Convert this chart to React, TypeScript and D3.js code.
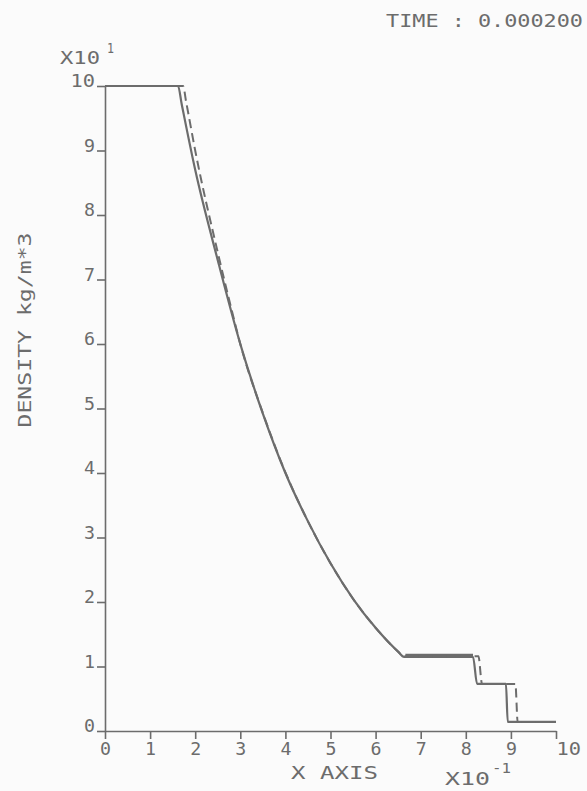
import React, { useEffect, useRef } from "react";
import * as d3 from "d3";

const W = 587;
const H = 791;
const ink = "#6c6c6c";
const font = "'DejaVu Sans Mono', monospace";

const xTicks = [0, 1, 2, 3, 4, 5, 6, 7, 8, 9, 10];
const yTicks = [0, 1, 2, 3, 4, 5, 6, 7, 8, 9, 10];

// solid curve (x in 10^-1, density in 10^1)
const solidX = [0, 1.62, 1.7, 2.0, 2.5, 3.0, 3.5, 4.0, 4.5, 5.0, 5.5, 6.0, 6.5, 6.63, 8.16, 8.25, 8.89, 8.93, 10];
const solidY = [10, 10, 9.72, 8.7, 7.3, 6.0, 4.92, 4.0, 3.25, 2.6, 2.05, 1.6, 1.23, 1.15, 1.15, 0.73, 0.73, 0.14, 0.14];
// second solid trace on the plateau (makes it look thicker)
const solid2X = [6.66, 8.16];
const solid2Y = [1.18, 1.18];
// dashed curve
const dashedX = [0, 1.73, 1.8, 2.0, 2.5, 2.8, 3.0, 3.5, 4.0, 4.5, 5.0, 5.5, 6.0, 6.5, 6.62, 8.28, 8.36, 9.1, 9.15, 10];
const dashedY = [10, 10, 9.75, 9.0, 7.42, 6.55, 6.0, 4.93, 4.01, 3.25, 2.6, 2.05, 1.6, 1.23, 1.16, 1.16, 0.73, 0.73, 0.14, 0.14];

export default function App() {
  const svgRef = useRef<SVGSVGElement>(null);

  useEffect(() => {
    const svg = d3.select(svgRef.current);
    svg.selectAll("*").remove();

    svg.append("rect").attr("width", W).attr("height", H).attr("fill", "#fbfbfb");

    const x = d3.scaleLinear().domain([0, 10]).range([105, 556]);
    const y = d3.scaleLinear().domain([0, 10]).range([731, 86]);

    const stretch = (s: string) => s.length * 13.5 - 2.5;

    // y axis
    const gy = svg.append("g")
      .attr("transform", "translate(105,0)")
      .call(d3.axisLeft(y).tickValues(yTicks).tickSize(8).tickSizeOuter(0).tickPadding(2).tickFormat(d3.format("d")));
    gy.attr("font-family", font).attr("font-size", 17);
    gy.select(".domain").attr("stroke", ink).attr("stroke-width", 1.6);
    gy.selectAll(".tick line").attr("stroke", ink).attr("stroke-width", 1.6);
    gy.selectAll<SVGTextElement, number>(".tick text")
      .attr("dy", "0.05em")
      .attr("fill", ink)
      .attr("textLength", d => stretch(String(d)))
      .attr("lengthAdjust", "spacingAndGlyphs");

    // x axis
    const gx = svg.append("g")
      .attr("transform", "translate(0,731)")
      .call(d3.axisBottom(x).tickValues(xTicks).tickSize(8).tickSizeOuter(0).tickPadding(4).tickFormat(d3.format("d")));
    gx.attr("font-family", font).attr("font-size", 17);
    gx.select(".domain").attr("stroke", ink).attr("stroke-width", 1.6);
    gx.selectAll(".tick line").attr("stroke", ink).attr("stroke-width", 1.6);
    gx.selectAll<SVGTextElement, number>(".tick text")
      .attr("fill", ink)
      .attr("textLength", d => stretch(String(d)))
      .attr("lengthAdjust", "spacingAndGlyphs")
      .filter(d => d === 10)
      .attr("text-anchor", "start")
      .attr("x", 0);

    // curves
    const mkLine = (xs: number[], ys: number[]) =>
      d3.line<number>()
        .x(i => x(xs[i]))
        .y(i => y(ys[i]))
        .curve(d3.curveMonotoneX)(d3.range(xs.length));

    svg.append("path").attr("d", mkLine(solidX, solidY))
      .attr("fill", "none").attr("stroke", ink).attr("stroke-width", 2.2);
    svg.append("path").attr("d", mkLine(solid2X, solid2Y))
      .attr("fill", "none").attr("stroke", ink).attr("stroke-width", 2.2);
    svg.append("path").attr("d", mkLine(dashedX, dashedY))
      .attr("fill", "none").attr("stroke", ink).attr("stroke-width", 2)
      .attr("stroke-dasharray", "9,5");

    const txt = (s: string, tx: number, ty: number, size: number, len: number) =>
      svg.append("text").text(s)
        .attr("x", tx).attr("y", ty)
        .attr("font-family", font).attr("font-size", size)
        .attr("fill", ink)
        .attr("textLength", len).attr("lengthAdjust", "spacingAndGlyphs");

    // title
    txt("TIME : 0.000200", 386, 27, 18, 197);
    // y multiplier
    txt("X10", 60, 64, 17, 40);
    txt("1", 107, 53, 14, 7);
    // x labels
    txt("X AXIS", 291, 779, 18, 87);
    txt("X10", 445, 785, 17, 45);
    txt("-1", 492, 773, 14, 19);

    // y label
    svg.append("text").text("DENSITY kg/m*3")
      .attr("transform", "translate(31,330) rotate(-90)")
      .attr("text-anchor", "middle")
      .attr("font-family", font).attr("font-size", 17)
      .attr("fill", ink)
      .attr("textLength", 195).attr("lengthAdjust", "spacingAndGlyphs");
  }, []);

  return (
    <svg
      ref={svgRef}
      width={W}
      height={H}
      style={{ position: "absolute", left: 0, top: 0, display: "block" }}
    />
  );
}
